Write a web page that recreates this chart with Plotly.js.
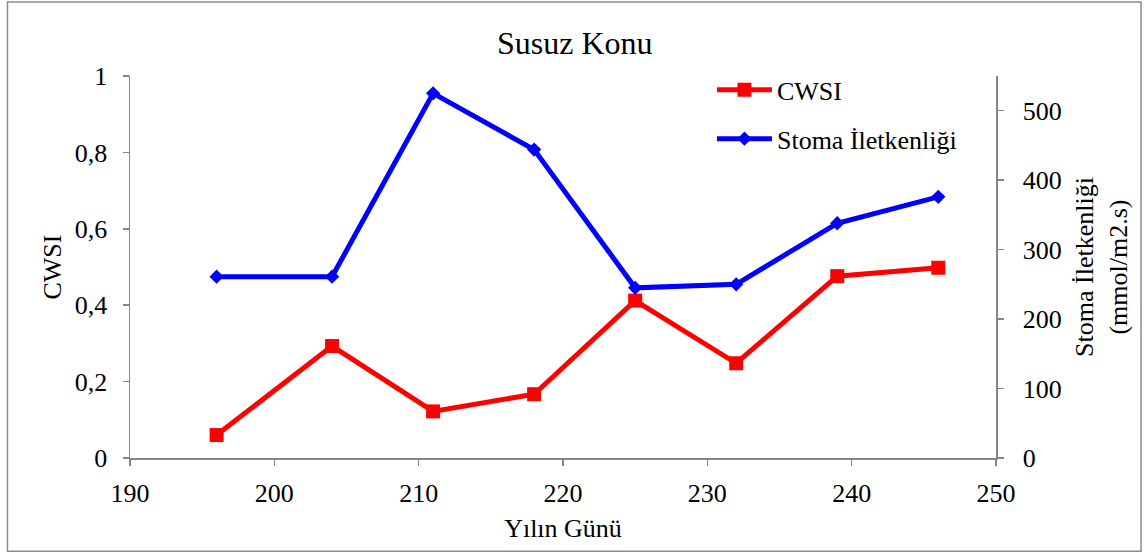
<!DOCTYPE html>
<html>
<head>
<meta charset="utf-8">
<script src="https://cdn.plot.ly/plotly-3.0.1.min.js"></script>
<style>html,body{margin:0;padding:0;background:#fff;}#chart{width:1145px;height:553px;}</style>
</head>
<body>
<div id="chart"></div>
<script>
const days = [196, 204, 211, 218, 225, 232, 239, 246];
const cwsi = [0.060, 0.293, 0.122, 0.167, 0.412, 0.248, 0.476, 0.498];
const stoma = [261, 261, 525, 444, 245, 250, 338, 376];
const xTicks = [190, 200, 210, 220, 230, 240, 250];
const yTicks = [0, 0.2, 0.4, 0.6, 0.8, 1];
const y2Ticks = [0, 100, 200, 300, 400, 500];

const FONT = "'Liberation Serif', 'Times New Roman', Times, serif";
const axisCol = '#868686';

const traces = [
  {
    x: days, y: cwsi, name: 'CWSI', type: 'scatter', mode: 'lines+markers',
    line: {color: '#FF0000', width: 5},
    marker: {symbol: 'square', size: 14, color: '#FF0000'},
    legendgroup: 'a'
  },
  {
    x: days, y: stoma, name: 'Stoma İletkenliği', type: 'scatter', mode: 'lines+markers',
    yaxis: 'y2',
    line: {color: '#0000FF', width: 5},
    marker: {symbol: 'diamond', size: 11, color: '#0000FF'},
    legendgroup: 'b'
  }
];

const commonAxis = {
  showline: true, linecolor: axisCol, linewidth: 1.5,
  ticks: 'outside', ticklen: 6, tickcolor: axisCol, tickwidth: 1.5,
  showgrid: false, zeroline: false,
  tickfont: {family: FONT, size: 26, color: '#000'}
};

const layout = {
  width: 1145, height: 553,
  margin: {l: 130, r: 149, t: 76, b: 95},
  paper_bgcolor: '#fff', plot_bgcolor: '#fff',
  separators: ', ',
  font: {family: FONT, size: 26, color: '#000'},
  title: {text: 'Susuz Konu', font: {family: FONT, size: 32, color: '#000'},
          x: 0.502, xref: 'container', y: 0.922, yref: 'container', yanchor: 'middle'},
  xaxis: Object.assign({}, commonAxis, {
    range: [190, 250], tickvals: xTicks, ticktext: xTicks.map(String),
    ticklabelstandoff: 5,
    title: {text: 'Yılın Günü', font: {family: FONT, size: 26, color: '#000'}, standoff: 12}
  }),
  yaxis: Object.assign({}, commonAxis, {
    range: [0, 1], tickvals: yTicks, tickformat: '.1~f',
    ticklabelstandoff: 10,
    title: {text: 'CWSI', font: {family: FONT, size: 26, color: '#000'}, standoff: 5}
  }),
  yaxis2: Object.assign({}, commonAxis, {
    range: [0, 550], tickvals: y2Ticks, overlaying: 'y', side: 'right',
    ticklabelstandoff: 14,
    title: {text: 'Stoma İletkenliği<br>(mmol/m2.s)', font: {family: FONT, size: 26, color: '#000'}, standoff: 14}
  }),
  showlegend: true,
  legend: {
    x: 0.672, y: 1.025, xanchor: 'left', yanchor: 'top',
    bgcolor: 'rgba(0,0,0,0)', borderwidth: 0,
    font: {family: FONT, size: 26, color: '#000'},
    itemwidth: 55, traceorder: 'grouped', tracegroupgap: 12
  },
  shapes: [{
    type: 'rect', xref: 'paper', yref: 'paper',
    x0: -0.1415, x1: 1.1675, y0: -0.2438, y1: 1.1936,
    line: {color: '#8c8c8c', width: 1.5}, fillcolor: 'rgba(0,0,0,0)', layer: 'below'
  }]
};

Plotly.newPlot('chart', traces, layout, {displayModeBar: false, staticPlot: true});
</script>
</body>
</html>
